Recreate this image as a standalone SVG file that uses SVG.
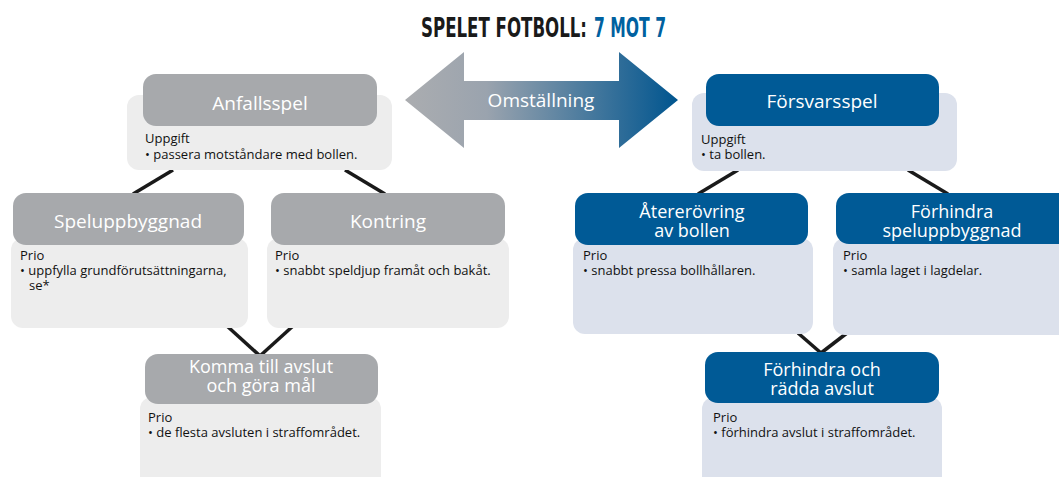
<svg xmlns="http://www.w3.org/2000/svg" width="1059" height="477" viewBox="0 0 1059 477">
<defs>
<linearGradient id="arrowGrad" x1="405" y1="0" x2="678" y2="0" gradientUnits="userSpaceOnUse">
<stop offset="0" stop-color="#abadb0"/>
<stop offset="0.3" stop-color="#9aa3ae"/>
<stop offset="1" stop-color="#00558f"/>
</linearGradient>
</defs>
<style>
.hg{fill:#a7a9ac}
.bg{fill:#ededed}
.hb{fill:#005a96}
.bb{fill:#dce1ec}
.ht{font-family:"Open Sans","Noto Sans",sans-serif;font-size:19px;fill:#fff;text-anchor:middle}
.h2{font-size:18px}
.bt{font-family:"Open Sans","Noto Sans",sans-serif;font-size:13px;fill:#111}
.ln{stroke:#1a1a1a;stroke-width:3.5;fill:none}
.title{font-family:"DejaVu Sans Condensed","DejaVu Sans",sans-serif;font-weight:bold;font-size:27px}
</style>
<rect width="1059" height="477" fill="#fff"/>
<text class="title" x="421" y="37" fill="#1a1a1a" textLength="166" lengthAdjust="spacingAndGlyphs">SPELET FOTBOLL:</text>
<text class="title" x="594" y="37" fill="#0061a0" textLength="72" lengthAdjust="spacingAndGlyphs">7 MOT 7</text>
<g id="omstallning">
<polygon points="405,100 464,52 464,81 619,81 619,52 678,100 619,148 619,120 464,120 464,148" fill="url(#arrowGrad)"/>
<text class="ht" x="541" y="107">Omställning</text>
</g>
<g id="connectors">
<line class="ln" x1="173" y1="170" x2="133" y2="194"/>
<line class="ln" x1="345" y1="170" x2="385" y2="194"/>
<line class="ln" x1="738" y1="170" x2="698" y2="194"/>
<line class="ln" x1="908" y1="170" x2="948" y2="194"/>
<line class="ln" x1="227" y1="326" x2="259" y2="355"/>
<line class="ln" x1="293" y1="326" x2="261" y2="355"/>
<line class="ln" x1="798" y1="333" x2="821" y2="353"/>
<line class="ln" x1="847" y1="333" x2="821" y2="353"/>
</g>
<g id="anfallsspel">
<rect class="bg" x="127" y="95" width="265" height="75" rx="12"/>
<rect class="hg" x="143" y="74" width="234" height="52" rx="13"/>
<text class="ht" x="260" y="110">Anfallsspel</text>
<text class="bt" x="145" y="143">Uppgift</text>
<text class="bt" x="145" y="159">• passera motståndare med bollen.</text>
</g>
<g id="speluppbyggnad">
<rect class="bg" x="11" y="238" width="237" height="90" rx="12"/>
<rect class="hg" x="13" y="193" width="231" height="52" rx="13"/>
<text class="ht" x="128" y="228">Speluppbyggnad</text>
<text class="bt" x="20" y="260">Prio</text>
<text class="bt" x="20" y="275">• uppfylla grundförutsättningarna,</text>
<text class="bt" x="29" y="290">se*</text>
</g>
<g id="kontring">
<rect class="bg" x="267" y="238" width="242" height="90" rx="12"/>
<rect class="hg" x="271" y="193" width="234" height="52" rx="13"/>
<text class="ht" x="388" y="228">Kontring</text>
<text class="bt" x="275" y="260">Prio</text>
<text class="bt" x="275" y="275">• snabbt speldjup framåt och bakåt.</text>
</g>
<g id="komma">
<rect class="bg" x="140" y="397" width="241" height="95" rx="12"/>
<rect class="hg" x="145" y="354" width="233" height="50" rx="13"/>
<text class="ht h2" x="261" y="373">Komma till avslut</text>
<text class="ht h2" x="261" y="392">och göra mål</text>
<text class="bt" x="148" y="422">Prio</text>
<text class="bt" x="148" y="437">• de flesta avsluten i straffområdet.</text>
</g>
<g id="forsvarsspel">
<rect class="bb" x="692" y="93" width="265" height="78" rx="12"/>
<rect class="hb" x="706" y="74" width="233" height="52" rx="13"/>
<text class="ht" x="822" y="108">Försvarsspel</text>
<text class="bt" x="701" y="144">Uppgift</text>
<text class="bt" x="701" y="159">• ta bollen.</text>
</g>
<g id="atererovring">
<rect class="bb" x="573" y="238" width="240" height="96" rx="12"/>
<rect class="hb" x="575" y="193" width="233" height="52" rx="13"/>
<text class="ht h2" x="692" y="218">Återerövring</text>
<text class="ht h2" x="692" y="237">av bollen</text>
<text class="bt" x="583" y="260">Prio</text>
<text class="bt" x="583" y="275">• snabbt pressa bollhållaren.</text>
</g>
<g id="forhindra-speluppbyggnad">
<rect class="bb" x="833" y="238" width="240" height="97" rx="12"/>
<rect class="hb" x="836" y="193" width="236" height="51" rx="13"/>
<text class="ht h2" x="952" y="218">Förhindra</text>
<text class="ht h2" x="952" y="237">speluppbyggnad</text>
<text class="bt" x="843" y="260">Prio</text>
<text class="bt" x="843" y="275">• samla laget i lagdelar.</text>
</g>
<g id="forhindra-avslut">
<rect class="bb" x="702" y="397" width="240" height="95" rx="12"/>
<rect class="hb" x="705" y="352" width="234" height="51" rx="13"/>
<text class="ht h2" x="822" y="376">Förhindra och</text>
<text class="ht h2" x="822" y="395">rädda avslut</text>
<text class="bt" x="713" y="422">Prio</text>
<text class="bt" x="713" y="437">• förhindra avslut i straffområdet.</text>
</g>
</svg>
